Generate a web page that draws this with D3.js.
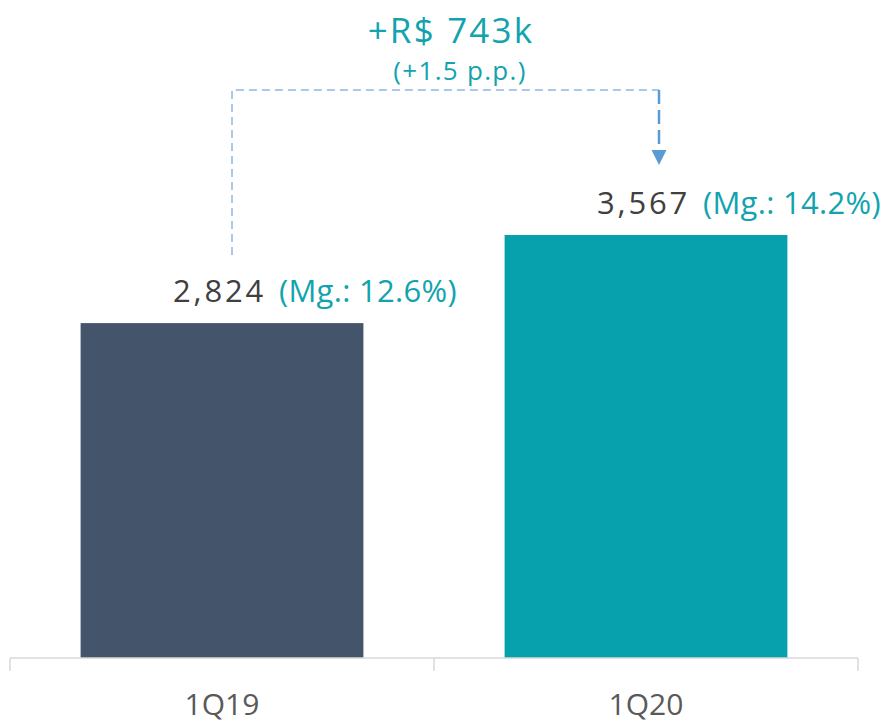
<!DOCTYPE html>
<html>
<head>
<meta charset="utf-8">
<script src="https://cdn.jsdelivr.net/npm/d3@7"></script>
<style>
  html, body { margin: 0; padding: 0; background: #fff; }
  svg { display: block; font-family: "Open Sans", "Noto Sans", sans-serif; }
</style>
</head>
<body>
<svg id="chart" width="882" height="723"></svg>
<script>
// Quarterly results (R$ thousand) and margins
const quarters = ["1Q19", "1Q20"];
const values = [2824, 3567];
const margins = ["(Mg.: 12.6%)", "(Mg.: 14.2%)"];
const barColors = ["#44546a", "#06a1ad"];
const deltaLabel = "+R$ 743k";
const deltaSub = "(+1.5 p.p.)";

const svg = d3.select("#chart");
const baseY = 658;
const teal = "#12a3ae";

const x = d3.scaleBand()
  .domain(quarters)
  .range([10, 858])
  .paddingInner(0.333)
  .paddingOuter(0.1665);

const y = d3.scaleLinear()
  .domain([0, d3.max(values)])
  .range([baseY, 235]);

// bars
svg.selectAll("rect.bar")
  .data(quarters)
  .join("rect")
  .attr("class", "bar")
  .attr("x", d => x(d))
  .attr("width", x.bandwidth())
  .attr("y", (d, i) => y(values[i]))
  .attr("height", (d, i) => baseY - y(values[i]))
  .attr("fill", (d, i) => barColors[i]);

// category axis with boundary ticks
const axisG = svg.append("g").attr("transform", `translate(0,${baseY})`);
axisG.append("line")
  .attr("x1", 10).attr("x2", 858)
  .attr("stroke", "#d9d9d9").attr("stroke-width", 1.5);
const bounds = [10, 10 + x.step(), 858];
axisG.selectAll("line.tick")
  .data(bounds)
  .join("line")
  .attr("class", "tick")
  .attr("x1", d => d).attr("x2", d => d)
  .attr("y1", 0).attr("y2", 13)
  .attr("stroke", "#d9d9d9").attr("stroke-width", 1.5);
axisG.selectAll("text")
  .data(quarters)
  .join("text")
  .attr("x", d => x(d) + x.bandwidth() / 2)
  .attr("y", 57)
  .attr("text-anchor", "middle")
  .attr("font-size", 30)
  .attr("fill", "#595959")
  .text(d => d);

// value + margin labels
const labels = svg.selectAll("g.lbl")
  .data(quarters)
  .join("g")
  .attr("class", "lbl")
  .attr("transform", (d, i) => `translate(${x(d) + x.bandwidth() / 2},${y(values[i]) - 21})`);
labels.append("text")
  .attr("x", 44)
  .attr("text-anchor", "end")
  .attr("font-size", 31)
  .attr("letter-spacing", 2.8)
  .attr("fill", "#404040")
  .text((d, i) => d3.format(",")(values[i]));
labels.append("text")
  .attr("x", 57)
  .attr("font-size", 31)
  .attr("letter-spacing", 0.3)
  .attr("fill", teal)
  .text((d, i) => margins[i]);

// change bracket between the two bars
const cx1 = x(quarters[0]) + x.bandwidth() / 2 + 10;
const cx2 = x(quarters[1]) + x.bandwidth() / 2 + 13;
const topY = 90;
svg.append("path")
  .attr("d", `M${cx1},${y(values[0]) - 68}V${topY}H${cx2}`)
  .attr("fill", "none")
  .attr("stroke", "#8db6e3")
  .attr("stroke-width", 1.5)
  .attr("stroke-dasharray", "8,5");
svg.append("line")
  .attr("x1", cx2).attr("x2", cx2)
  .attr("y1", topY).attr("y2", 150)
  .attr("stroke", "#5b9bd5")
  .attr("stroke-width", 2.5)
  .attr("stroke-dasharray", "14,6");
svg.append("path")
  .attr("d", `M${cx2 - 7.5},150L${cx2 + 7.5},150L${cx2},165Z`)
  .attr("fill", "#5b9bd5");

svg.append("text")
  .attr("x", 451).attr("y", 43)
  .attr("text-anchor", "middle")
  .attr("font-size", 35)
  .attr("letter-spacing", 2.2)
  .attr("fill", teal)
  .text(deltaLabel);
svg.append("text")
  .attr("x", 460).attr("y", 80)
  .attr("text-anchor", "middle")
  .attr("font-size", 26)
  .attr("letter-spacing", 1.3)
  .attr("fill", teal)
  .text(deltaSub);
</script>
</body>
</html>
